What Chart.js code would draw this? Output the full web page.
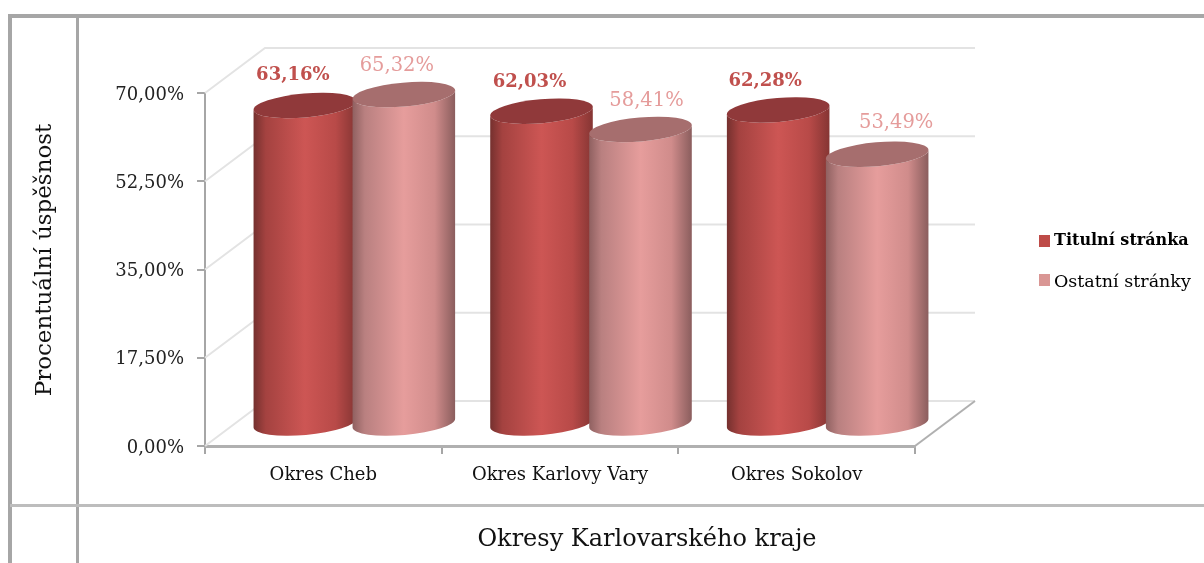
<!DOCTYPE html>
<html><head><meta charset="utf-8">
<style>
html,body{margin:0;padding:0;background:#fff;width:1204px;height:563px;overflow:hidden}
#w{position:relative;width:1204px;height:563px}
.l{position:absolute;background:#a6a6a6}
canvas{position:absolute;left:0;top:0}
</style>
<script src="https://cdn.jsdelivr.net/npm/chart.js@4"></script>
</head><body><div id="w">
<div class="l" style="left:8px;top:14px;width:1196px;height:4px"></div>
<div class="l" style="left:8px;top:14px;width:4px;height:549px"></div>
<div class="l" style="left:76px;top:14px;width:3px;height:549px"></div>
<div class="l" style="left:10px;top:504px;width:1194px;height:3px;background:#bdbdbd"></div>
<canvas id="c" width="1204" height="563"></canvas></div>
<script>
const categories = ['Okres Cheb','Okres Karlovy Vary','Okres Sokolov'];
const seriesNames = ['Titulní stránka','Ostatní stránky'];
const titulni = [63.16,62.03,62.28];
const ostatni = [65.32,58.41,53.49];
const xAxisTitle = 'Okresy Karlovarského kraje';
const yAxisTitle = 'Procentuální úspěšnost';
const labelNudgeX = [[-12,-12,-13],[-7,6,19]];
const labelNudgeY = [[-30,-29,-29],[-29,-29,-31]];

const SERIF = '"DejaVu Serif"';
const fmt = v => v.toFixed(2).replace('.',',') + '%';
const DX = 31, DY = -22, RY = 12, ROT = -5*Math.PI/180;
const WX = 60, WY = -45;
const looks = {
  '#c0504d': {cap:'#90393a', stops:[[0,'#74302e'],[.12,'#a44240'],[.5,'#cd5654'],[.8,'#b84a48'],[1,'#853533']]},
  '#e59c9b': {cap:'#a66e6e', stops:[[0,'#8f6060'],[.12,'#b98080'],[.5,'#e69d9c'],[.8,'#d08c8b'],[1,'#8a5d5d']]}
};
Chart.BarElement.prototype.draw = function(ctx){
  const p = this.getProps(['x','y','base','width']);
  const look = looks[this.options.backgroundColor];
  const cx = p.x+DX, top = p.y+DY, base = p.base+DY, rx = p.width/2;
  const g = ctx.createLinearGradient(cx-rx,0,cx+rx,0);
  look.stops.forEach(s=>g.addColorStop(s[0],s[1]));
  ctx.save();
  ctx.beginPath();
  ctx.ellipse(cx,base,rx,RY,ROT,0,Math.PI);
  ctx.ellipse(cx,top,rx,RY,ROT,Math.PI,0,true);
  ctx.closePath();
  ctx.fillStyle = g; ctx.fill();
  ctx.beginPath();
  ctx.ellipse(cx,top,rx,RY,ROT,0,Math.PI*2);
  ctx.fillStyle = look.cap; ctx.fill();
  ctx.restore();
};
const wall = {
  id:'wall',
  beforeDatasetsDraw(chart){
    const {ctx,scales:{x,y}} = chart;
    ctx.save(); ctx.lineWidth=2; ctx.strokeStyle='#e3e3e3';
    y.ticks.forEach(t=>{
      const py = y.getPixelForValue(t.value);
      ctx.beginPath();
      ctx.moveTo(x.left,py); ctx.lineTo(x.left+WX,py+WY); ctx.lineTo(x.right+WX,py+WY);
      ctx.stroke();
    });
    ctx.strokeStyle='#b0b0b0';
    ctx.beginPath(); ctx.moveTo(x.right,y.bottom); ctx.lineTo(x.right+WX,y.bottom+WY); ctx.stroke();
    ctx.restore();
  },
  // the left-hand series overlaps and must paint before the right-hand one
  beforeDatasetDraw(chart,args){ if(args.index===1 && !chart.$second) return false; },
  afterDatasetDraw(chart,args){
    if(args.index===0){
      chart.$second = true;
      chart.getDatasetMeta(1).controller.draw();
      chart.$second = false;
    }
  }
};
const labelsAndLegend = {
  id:'labelsAndLegend',
  afterDatasetsDraw(chart){
    const {ctx} = chart;
    ctx.save();
    ctx.textAlign='center'; ctx.textBaseline='middle';
    chart.data.datasets.forEach((d,i)=>{
      const meta = chart.getDatasetMeta(i);
      ctx.font = (i===0?'bold 18px ':'19.5px ')+SERIF;
      ctx.fillStyle = i===0?'#c0504d':'#e59c9b';
      meta.data.forEach((b,j)=>{
        ctx.fillText(fmt(d.data[j]), b.x+DX+labelNudgeX[i][j], b.y+DY+labelNudgeY[i][j]);
      });
    });
    ctx.fillStyle='#111';
    ctx.font='24px '+SERIF;
    ctx.fillText(xAxisTitle,647,540);
    ctx.save();
    ctx.translate(45,260); ctx.rotate(-Math.PI/2);
    ctx.font='23px '+SERIF;
    ctx.fillText(yAxisTitle,0,0);
    ctx.restore();
    ctx.textAlign='left';
    const sq=[235,274], ty=[241,282];
    chart.data.datasets.forEach((d,i)=>{
      ctx.fillStyle = i===0?'#be4b48':'#d99694';
      ctx.fillRect(1039,sq[i],11,12);
      ctx.fillStyle='#000';
      ctx.font=(i===0?'bold 16px ':'17.5px ')+SERIF;
      ctx.fillText(d.label,1054,ty[i]);
    });
    ctx.restore();
  }
};
new Chart(document.getElementById('c'),{
  type:'bar',
  data:{labels:categories,datasets:[
    {label:seriesNames[0],data:titulni,backgroundColor:'#c0504d'},
    {label:seriesNames[1],data:ostatni,backgroundColor:'#e59c9b'}
  ]},
  options:{
    responsive:false,animation:false,
    layout:{padding:{left:33,top:93,right:289,bottom:12}},
    categoryPercentage:.8366,barPercentage:1.04,
    datasets:{bar:{clip:false}},
    plugins:{legend:{display:false},tooltip:{enabled:false}},
    scales:{
      x:{
        afterFit(s){s.height=105;},
        grid:{drawOnChartArea:false,drawTicks:true,tickLength:8,color:'#a6a6a6',lineWidth:2},
        border:{color:'#b0b0b0',width:3},
        ticks:{color:'#111',font:{family:SERIF,size:18},padding:11,maxRotation:0},
      },
      y:{
        min:0,max:70,
        afterFit(s){s.width=172;},
        afterBuildTicks(s){s.ticks=[0,17.5,35,52.5,70].map(v=>({value:v}));},
        grid:{drawOnChartArea:false,drawTicks:true,tickLength:8,color:'#a6a6a6',lineWidth:2},
        border:{color:'#a6a6a6',width:2},
        ticks:{color:'#222',font:{family:SERIF,size:18},padding:13,labelOffset:2,callback:v=>fmt(v)},
      }
    }
  },
  plugins:[wall,labelsAndLegend]
});
</script></body></html>
